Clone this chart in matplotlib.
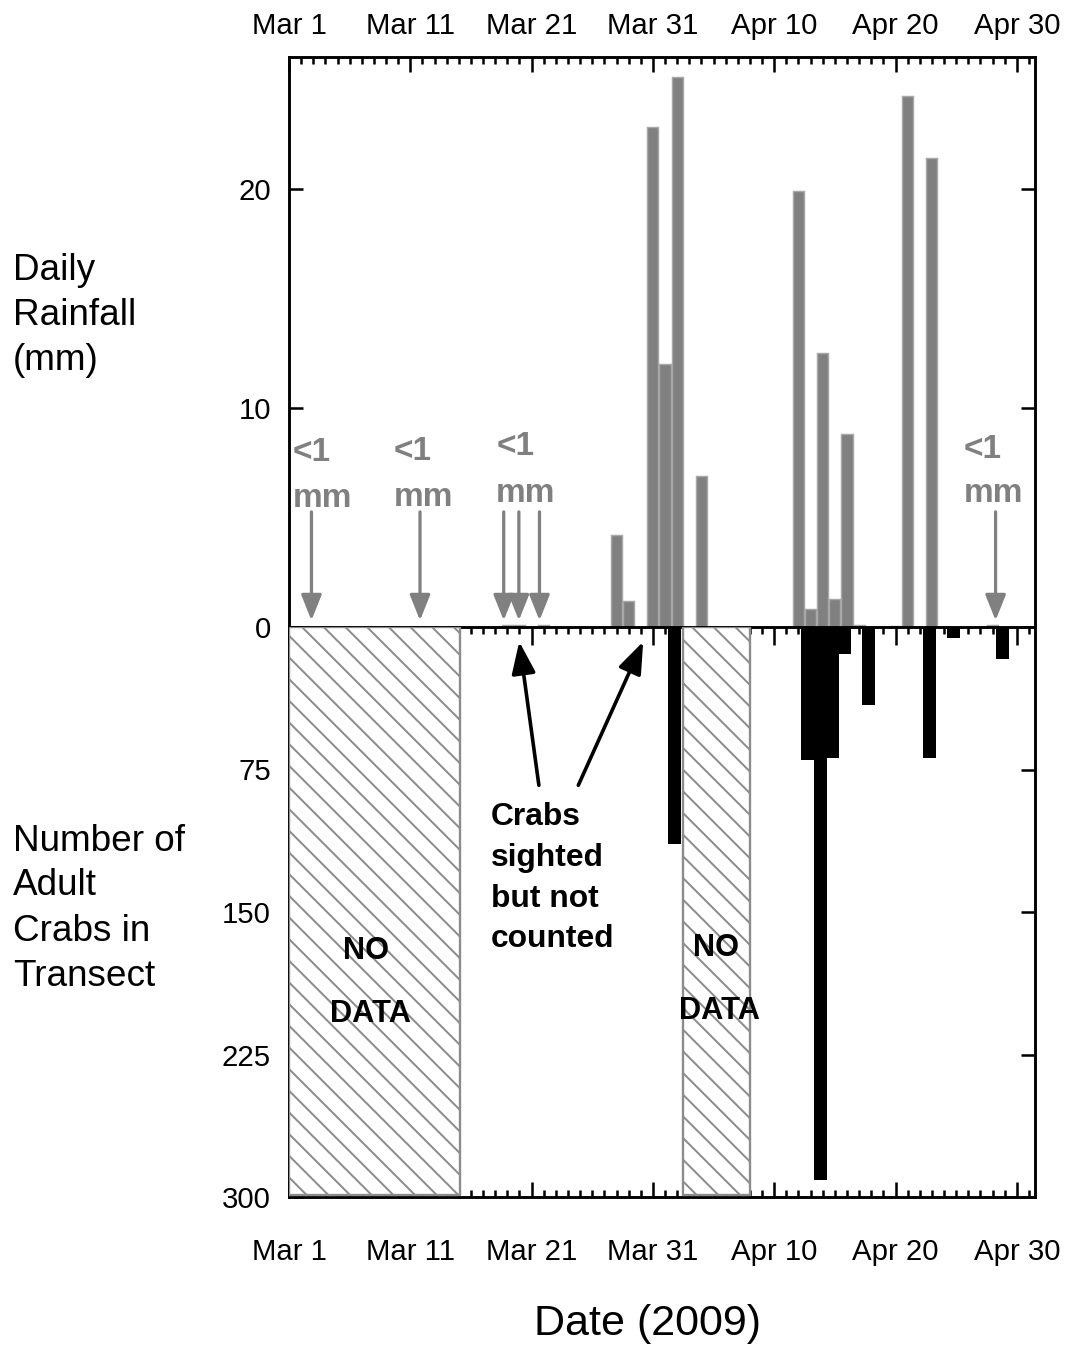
import matplotlib
matplotlib.use("Agg")
import matplotlib.pyplot as plt
from matplotlib.ticker import MultipleLocator, FixedLocator
import numpy as np

plt.rcParams['font.family'] = ['Liberation Sans', 'DejaVu Sans']
plt.rcParams['hatch.linewidth'] = 1.1

# Day index: 0 = 1 March 2009
rain_days = [18, 19, 21, 27, 28, 30, 31, 32, 34, 42, 43, 44, 45, 46, 47, 50, 51, 53, 58]
rain_mm = [0.1, 0.1, 0.1, 4.2, 1.2, 22.8, 12.0, 25.1, 6.9, 19.9, 0.8, 12.5, 1.3, 8.8,
           0.1, 0.05, 24.2, 21.4, 0.1]

crab_days = [32, 43, 44, 45, 46, 48, 53, 55, 59]
crab_counts = [114, 70, 291, 69, 14, 41, 69, 6, 17]

# Periods without crab surveys (start day, end day)
no_data_spans = [(0.0, 14.1), (32.5, 38.0)]

# Days with trace rainfall (<1 mm), marked by arrows
trace_arrow_days = [1.85, 10.8, 17.7, 18.95, 20.65, 58.25]
trace_label_days = [0.33, 8.66, 17.08, 55.6]

date_ticks = [0, 10, 20, 30, 40, 50, 60]
date_labels = ["Mar 1", "Mar 11", "Mar 21", "Mar 31", "Apr 10", "Apr 20", "Apr 30"]
rain_ticks = [0, 10, 20]
crab_ticks = [0, 75, 150, 225, 300]
crab_tick_labels = ["", "75", "150", "225", "300"]

W, H, DPI = 1068, 1346, 130
fig = plt.figure(figsize=(W / DPI, H / DPI), dpi=DPI)


def fx(px):
    return px / W


def fy(py):
    return 1 - py / H


left, right, top, mid, bottom = 289, 1035, 57, 627, 1197
ax = fig.add_axes([fx(left), fy(mid), fx(right) - fx(left), fy(top) - fy(mid)])
ax2 = fig.add_axes([fx(left), fy(bottom), fx(right) - fx(left), fy(mid) - fy(bottom)])

XMAX = 61.5
GRAY = '#808080'
SPINE_LW = 1.6
TICK_W = 1.4
TICK_FS = 16.3

# ---- rainfall panel ----
ax.bar(rain_days, rain_mm, width=0.92, color=GRAY, edgecolor='#a8a8a8', linewidth=0.8,
       zorder=2)
ax.set_xlim(0, XMAX)
ax.set_ylim(0, 26)
ax.spines['bottom'].set_visible(False)
for s in ['top', 'left', 'right']:
    ax.spines[s].set_linewidth(SPINE_LW)
ax.xaxis.set_major_locator(FixedLocator(date_ticks))
ax.xaxis.set_minor_locator(MultipleLocator(1))
ax.set_xticklabels(date_labels)
ax.tick_params(axis='x', which='both', direction='in', top=True, bottom=False,
               labeltop=True, labelbottom=False)
ax.tick_params(axis='x', which='major', length=8.5, width=TICK_W, pad=9.5, labelsize=TICK_FS)
ax.tick_params(axis='x', which='minor', length=4, width=TICK_W)
ax.set_yticks(rain_ticks)
ax.tick_params(axis='y', direction='in', left=True, right=True, length=8, width=TICK_W,
               pad=10, labelsize=TICK_FS)

for d in trace_arrow_days:
    ax.annotate('', xy=(d, 0.3), xytext=(d, 5.25),
                arrowprops=dict(arrowstyle='-|>,head_length=0.6,head_width=0.24',
                                mutation_scale=20, color=GRAY, lw=1.8,
                                shrinkA=0, shrinkB=0))

label_baselines = [(7.59, 5.49), (7.6, 5.5), (7.85, 5.72), (7.72, 5.68)]
for d, (y1, y2) in zip(trace_label_days, label_baselines):
    ax.text(d, y1, "<1", color=GRAY, fontsize=18.5, fontweight='bold',
            ha='left', va='baseline')
    ax.text(d, y2, "mm", color=GRAY, fontsize=18.5, fontweight='bold',
            ha='left', va='baseline')

# ---- crab count panel ----
ax2.bar(np.array(crab_days) - 0.2, crab_counts, width=1.1, color='black',
        linewidth=0, zorder=2)
for start, end in no_data_spans:
    ax2.bar(start, 299, width=end - start, align='edge', facecolor='white',
            edgecolor='#8c8c8c', hatch='\\\\', linewidth=1.3, zorder=3)
ax2.set_xlim(0, XMAX)
ax2.set_ylim(300, 0)
for s in ['top', 'bottom', 'left', 'right']:
    ax2.spines[s].set_linewidth(SPINE_LW)
ax2.xaxis.set_major_locator(FixedLocator(date_ticks))
ax2.xaxis.set_minor_locator(MultipleLocator(1))
ax2.set_xticklabels(date_labels)
ax2.tick_params(axis='x', which='both', direction='in', top=True, bottom=True,
                labeltop=False, labelbottom=True)
ax2.tick_params(axis='x', which='major', length=8.5, width=TICK_W, pad=22.5, labelsize=TICK_FS)
ax2.tick_params(axis='x', which='minor', length=4, width=TICK_W)
ax2.set_yticks(crab_ticks)
ax2.set_yticklabels(crab_tick_labels)
ax2.tick_params(axis='y', direction='in', left=True, right=True, length=8, width=TICK_W,
                pad=10, labelsize=TICK_FS)

# Longer ticks along the zero line
for t in ax2.xaxis.get_major_ticks():
    t.tick2line.set_markersize(10)

ax2.text(6.35, 174.5, "NO", fontsize=17, fontweight='bold', ha='center', va='baseline',
         zorder=4)
ax2.text(6.68, 207.7, "DATA", fontsize=17, fontweight='bold', ha='center', va='baseline',
         zorder=4)
ax2.text(35.2, 173.4, "NO", fontsize=17, fontweight='bold', ha='center', va='baseline',
         zorder=4)
ax2.text(35.45, 206.1, "DATA", fontsize=17, fontweight='bold', ha='center', va='baseline',
         zorder=4)

for line, yb in zip(["Crabs", "sighted", "but not", "counted"], [104.1, 125.8, 147.4, 168.5]):
    ax2.text(16.67, yb, line, fontsize=17.6, fontweight='bold', ha='left', va='baseline')

for tip, tail in [((18.98, 7.7), (20.6, 83.3)), ((29.2, 7.7), (23.85, 83.3))]:
    ax2.annotate('', xy=tip, xytext=tail,
                 arrowprops=dict(arrowstyle='-|>,head_length=0.75,head_width=0.28',
                                 mutation_scale=20, color='black', lw=2.0,
                                 shrinkA=0, shrinkB=0), zorder=5)

# ---- side and axis titles ----
for line, yb in zip(["Daily", "Rainfall", "(mm)"], [280, 325, 370]):
    fig.text(fx(13), fy(yb), line, fontsize=20.4, ha='left', va='baseline')
for line, yb in zip(["Number of", "Adult", "Crabs in", "Transect"], [851, 895, 941, 986]):
    fig.text(fx(13), fy(yb), line, fontsize=20.4, ha='left', va='baseline')
fig.text(fx(648), fy(1335), "Date (2009)", fontsize=23.8, ha='center', va='baseline')

fig.savefig("out.png", dpi=DPI)
